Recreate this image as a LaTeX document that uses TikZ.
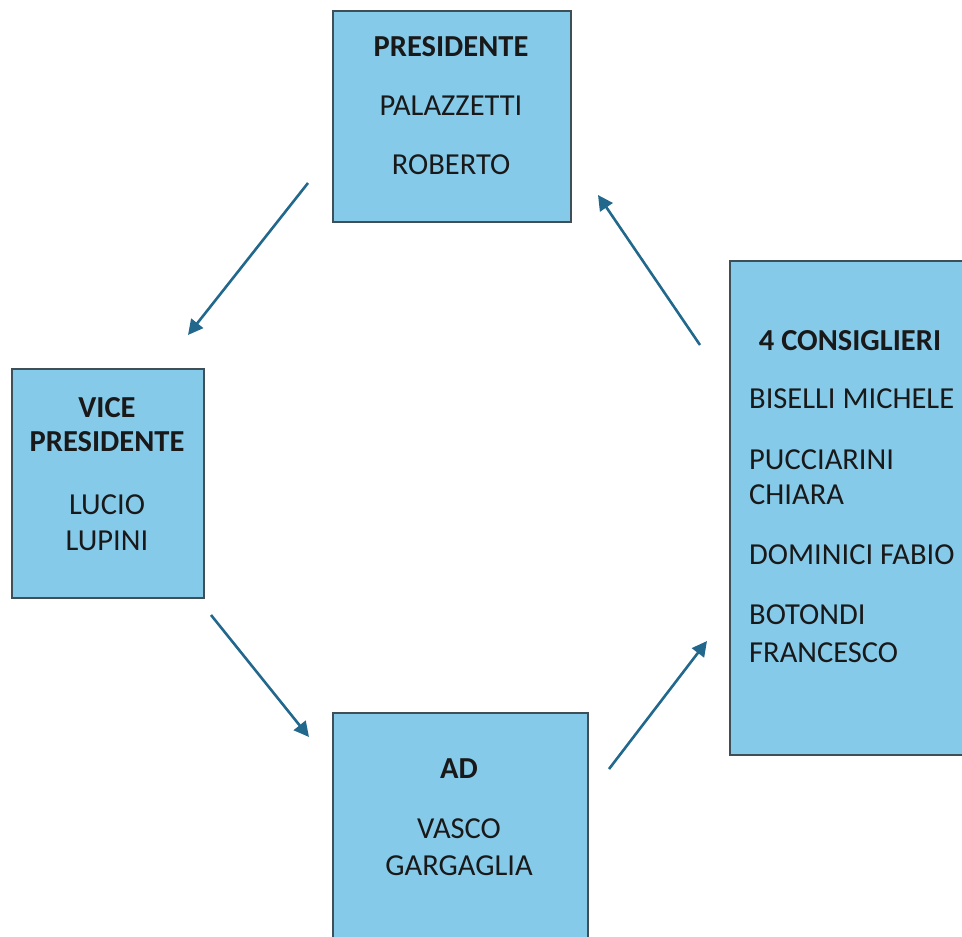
\documentclass[tikz,border=0pt]{standalone}
\usepackage{fontspec}
\setmainfont{Carlito}
\usetikzlibrary{arrows.meta}
\definecolor{boxfill}{HTML}{86CAEA}
\definecolor{boxline}{HTML}{3F4F58}
\definecolor{arrowc}{HTML}{22688C}
\begin{document}
\begin{tikzpicture}[x=1pt,y=-1pt,
  box/.style={draw=boxline,line width=1.6pt,fill=boxfill,inner sep=0pt,anchor=north west},
  txt/.style={font=\fontsize{30.5}{36}\selectfont,text=black!90,inner sep=0pt},
  ttl/.style={txt,font=\fontsize{30.5}{36}\selectfont\bfseries},
  conn/.style={draw=arrowc,line width=2.6pt,-{Triangle[length=15pt,width=15pt]}}]
\useasboundingbox (0,0) rectangle (962,937);
\clip (0,0) rectangle (962,937);
% boxes
\node[box,minimum width=238pt,minimum height=211pt] (pres) at (332,10) {};
\node[box,minimum width=192pt,minimum height=229pt] (vice) at (11,368) {};
\node[box,minimum width=255pt,minimum height=250pt] (ad) at (332,712) {};
\node[box,minimum width=260pt,minimum height=494pt] (cons) at (729,260) {};
% texts
\node[ttl] (t1) at (451,47) {PRESIDENTE};
\node[txt] (t2) at (451,106) {PALAZZETTI};
\node[txt] (t3) at (451,165) {ROBERTO};
\node[ttl] (t4) at (107,408) {VICE};
\node[ttl] (t5) at (107,442) {PRESIDENTE};
\node[txt] (t6) at (107,505) {LUCIO};
\node[txt] (t7) at (107,541) {LUPINI};
\node[ttl] (t8) at (459,769) {AD};
\node[txt] (t9) at (459,829) {VASCO};
\node[txt] (t10) at (459,866) {GARGAGLIA};
\node[ttl] (t11) at (850,341) {4 CONSIGLIERI};
\node[txt,anchor=west] (t12) at (749,399) {BISELLI MICHELE};
\node[txt,anchor=west] (t13) at (749,460) {PUCCIARINI};
\node[txt,anchor=west] (t14) at (749,495) {CHIARA};
\node[txt,anchor=west] (t15) at (749,555) {DOMINICI FABIO};
\node[txt,anchor=west] (t16) at (749,615) {BOTONDI};
\node[txt,anchor=west] (t17) at (749,653) {FRANCESCO};
% arrows
\coordinate (a1s) at (308,183); \coordinate (a1e) at (188,335);
\coordinate (a2s) at (211,615); \coordinate (a2e) at (309,737);
\coordinate (a3s) at (609,769); \coordinate (a3e) at (707,641);
\coordinate (a4s) at (700,345); \coordinate (a4e) at (598,195);
\draw[conn] (a1s) -- (a1e);
\draw[conn] (a2s) -- (a2e);
\draw[conn] (a3s) -- (a3e);
\draw[conn] (a4s) -- (a4e);
\end{tikzpicture}
\end{document}
